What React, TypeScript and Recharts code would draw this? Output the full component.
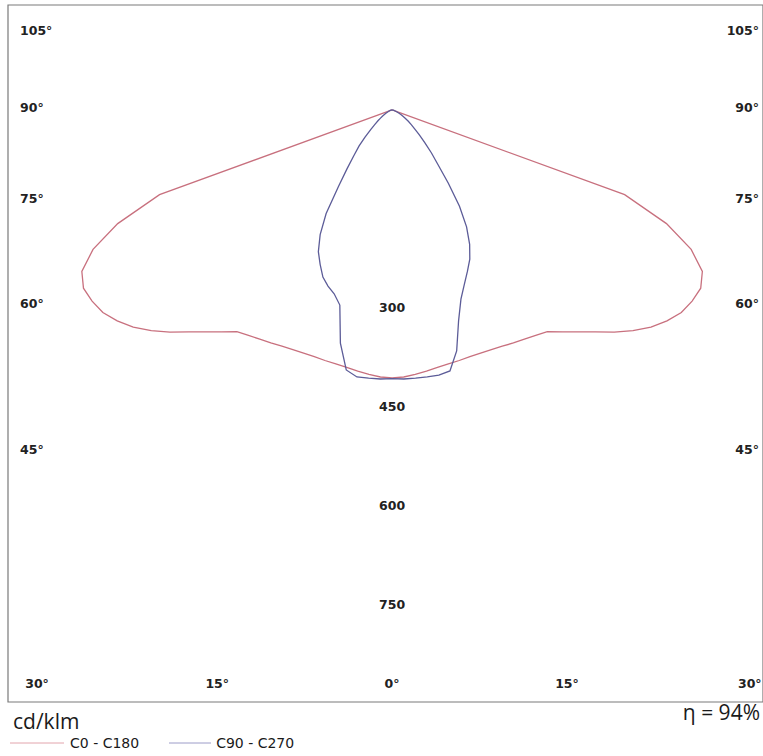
import React from "react";
import {
  ReferenceArea,
  ReferenceLine,
  Scatter,
  ScatterChart,
  XAxis,
  YAxis,
} from "recharts";

// gamma angles (deg from nadir) for every intensity list below
const angles = [
  0, 2.5, 5, 7.5, 10, 12.5, 15, 17.5, 20, 22.5, 25, 27.5, 30, 32.5, 35, 37.5,
  40, 42.5, 45, 47.5, 50, 52.5, 55, 57.5, 60, 62.5, 65, 67.5, 70, 72.5, 75,
  77.5, 80, 82.5, 85, 87.5, 90,
];

// cd/klm, C0 - C180 plane (symmetric)
const c180 = [
  406, 405, 402, 399, 396, 394, 393, 392, 392, 393, 395, 398, 401, 405, 410,
  424, 439, 456, 476, 495, 512, 525, 535, 539, 540, 530, 500, 450, 375, 0, 0,
  0, 0, 0, 0, 0, 0,
];
const c0 = [
  406, 405, 402, 399, 396, 394, 393, 392, 392, 393, 395, 398, 401, 405, 410,
  424, 439, 456, 476, 495, 512, 525, 535, 539, 540, 530, 500, 450, 375, 0, 0,
  0, 0, 0, 0, 0, 0,
];

// cd/klm, C90 - C270 plane
const c270 = [
  407, 408, 408, 408, 400, 362, 306, 292, 284, 274, 258, 242, 218, 186, 142,
  112, 90, 74, 58, 44, 34, 27, 21, 17, 13, 10, 8, 6, 5, 4, 3, 2, 2, 1, 1, 0, 0,
];
const c90 = [
  407, 408, 408, 408, 408, 405, 378, 335, 305, 286, 270, 255, 235, 210, 178,
  140, 108, 88, 70, 56, 45, 37, 30, 24, 19, 15, 11, 8, 6, 4, 3, 2, 2, 1, 1, 0,
  0,
];

const radialTicks = [300, 450, 600, 750];
const sideTicks = [121, 3, -135, -294, -515];
const sideLabels = ["105°", "90°", "75°", "60°", "45°"];
const bottomTicks = [-538, -265, 0, 265, 542];
const bottomLabels = ["30°", "15°", "0°", "15°", "30°"];

const xDomain: [number, number] = [-582, 562];
const yDomain: [number, number] = [-897, 159];

const RED = "#c8707e";
const BLUE = "#5c5c98";

const rad = (d: number) => (d * Math.PI) / 180;

// left half goes 90 -> 0, right half 0 -> 90, so the curve closes at the lamp
function polarCurve(left: number[], right: number[]) {
  const l = angles
    .map((a, i) => ({ x: -left[i] * Math.sin(rad(a)), y: -left[i] * Math.cos(rad(a)) }))
    .reverse();
  const r = angles.map((a, i) => ({
    x: right[i] * Math.sin(rad(a)),
    y: -right[i] * Math.cos(rad(a)),
  }));
  return [...l, ...r];
}

const redData = polarCurve(c180, c0);
const blueData = polarCurve(c270, c90);

const noDot = () => <g />;

const tickStyle = {
  fontSize: 12.5,
  fontWeight: 700,
  fill: "#222",
  fontFamily: "DejaVu Sans",
};

export default function App() {
  return (
    <div
      style={{
        position: "absolute",
        left: 0,
        top: 0,
        width: 763,
        height: 756,
        background: "#fff",
        fontFamily: "DejaVu Sans",
      }}
    >
      <ScatterChart
        width={763}
        height={756}
        margin={{ top: 5, right: 0, left: 8, bottom: 54 }}
      >
        <XAxis
          type="number"
          dataKey="x"
          domain={xDomain}
          allowDataOverflow
          ticks={bottomTicks}
          tickFormatter={(_v: number, i: number) => bottomLabels[i]}
          orientation="bottom"
          mirror
          axisLine={false}
          tickLine={false}
          tickSize={0}
          tickMargin={14}
          tick={tickStyle}
          interval={0}
        />
        <YAxis
          yAxisId="l"
          type="number"
          dataKey="y"
          domain={yDomain}
          allowDataOverflow
          ticks={sideTicks}
          tickFormatter={(_v: number, i: number) => sideLabels[i]}
          orientation="left"
          mirror
          axisLine={false}
          tickLine={false}
          tickSize={0}
          tickMargin={12}
          tick={tickStyle}
          interval={0}
        />
        <YAxis
          yAxisId="r"
          type="number"
          dataKey="y"
          domain={yDomain}
          allowDataOverflow
          ticks={sideTicks}
          tickFormatter={(_v: number, i: number) => sideLabels[i]}
          orientation="right"
          mirror
          axisLine={false}
          tickLine={false}
          tickSize={0}
          tickMargin={4}
          tick={tickStyle}
          interval={0}
        />
        <ReferenceArea
          yAxisId="l"
          x1={xDomain[0]}
          x2={xDomain[1]}
          y1={yDomain[0]}
          y2={yDomain[1]}
          fill="none"
          stroke="#7a7a7a"
          strokeWidth={1.2}
        />
        {radialTicks.map((v) => (
          <ReferenceLine
            key={v}
            yAxisId="l"
            segment={[
              { x: -20, y: -v },
              { x: 20, y: -v },
            ]}
            stroke="none"
            label={{ value: String(v), position: "center", ...tickStyle }}
          />
        ))}
        <Scatter
          yAxisId="l"
          name="C0 - C180"
          data={redData}
          line={{ stroke: RED, strokeWidth: 1.3 }}
          lineType="joint"
          shape={noDot}
          fill={RED}
          isAnimationActive={false}
        />
        <Scatter
          yAxisId="l"
          name="C90 - C270"
          data={blueData}
          line={{ stroke: BLUE, strokeWidth: 1.3 }}
          lineType="joint"
          shape={noDot}
          fill={BLUE}
          isAnimationActive={false}
        />
      </ScatterChart>
      <div
        style={{
          position: "absolute",
          left: 13,
          top: 711,
          fontSize: 21,
          lineHeight: 1,
          fontFamily: "Open Sans",
          color: "#1a1a1a",
        }}
      >
        cd/klm
      </div>
      <div
        style={{
          position: "absolute",
          right: 3,
          top: 702,
          fontSize: 21,
          lineHeight: 1,
          fontFamily: "Open Sans",
          color: "#1a1a1a",
        }}
      >
        η = 94%
      </div>
      <div
        style={{
          position: "absolute",
          left: 10,
          top: 736,
          display: "flex",
          alignItems: "center",
          fontSize: 14,
          lineHeight: 1,
          color: "#1a1a1a",
        }}
      >
        <svg width={54} height={4}>
          <line x1={0} y1={2} x2={54} y2={2} stroke="#e2a4ac" strokeWidth={1} />
        </svg>
        <span style={{ marginLeft: 6 }}>C0 - C180</span>
        <svg width={42} height={4} style={{ marginLeft: 30 }}>
          <line x1={0} y1={2} x2={42} y2={2} stroke="#9c9cc8" strokeWidth={1} />
        </svg>
        <span style={{ marginLeft: 5 }}>C90 - C270</span>
      </div>
    </div>
  );
}
